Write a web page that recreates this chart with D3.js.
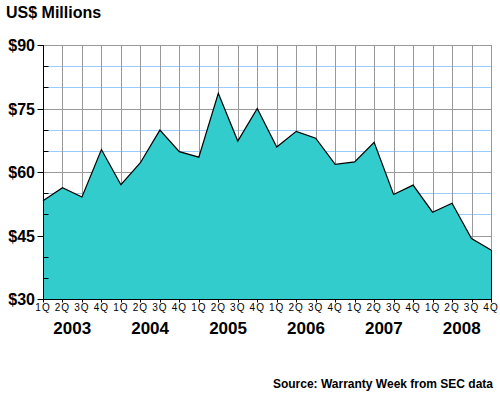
<!DOCTYPE html>
<html>
<head>
<meta charset="utf-8">
<script src="https://cdn.jsdelivr.net/npm/d3@7"></script>
<style>
  body { margin: 0; background: #fff; }
  svg text { font-family: Arial, "Liberation Sans", sans-serif; }
</style>
</head>
<body>
<svg id="chart" width="500" height="394"></svg>
<script>
// quarterly warranty claims, US$ millions, 1Q 2003 .. 4Q 2008
var years = ['2003', '2004', '2005', '2006', '2007', '2008'];
var quarters = ['1Q', '2Q', '3Q', '4Q'];
var claims = [53.2, 56.3, 54.1, 65.3,
              57.0, 62.2, 69.9, 64.8,
              63.5, 78.6, 67.3, 75.0,
              65.9, 69.6, 68.0, 61.8,
              62.4, 67.0, 54.7, 56.9,
              50.5, 52.6, 44.3, 41.6];
var yTicks = [30, 45, 60, 75, 90];
var yMinor = [35, 40, 50, 55, 65, 70, 80, 85];

var pl = 43, pr = 491, pt = 45, pb = 299;
var svg = d3.select('#chart');

var x = d3.scaleLinear().domain([0, claims.length - 1]).range([pl, pr]);
var y = d3.scaleLinear().domain([30, 90]).range([pb, pt]);

function px(v) { return Math.round(v) + 0.5; }

// minor horizontal gridlines (light blue)
svg.append('g').selectAll('line').data(yMinor).enter().append('line')
  .attr('x1', pl).attr('x2', pr)
  .attr('y1', function(d) { return px(y(d)); })
  .attr('y2', function(d) { return px(y(d)); })
  .attr('stroke', '#99ccff').attr('stroke-width', 1);

// major horizontal gridlines
svg.append('g').selectAll('line').data(yTicks).enter().append('line')
  .attr('x1', pl).attr('x2', pr)
  .attr('y1', function(d) { return px(y(d)); })
  .attr('y2', function(d) { return px(y(d)); })
  .attr('stroke', '#999').attr('stroke-width', 1);

// vertical gridlines, one per quarter
svg.append('g').selectAll('line').data(d3.range(claims.length)).enter().append('line')
  .attr('x1', function(d) { return px(x(d)); })
  .attr('x2', function(d) { return px(x(d)); })
  .attr('y1', pt).attr('y2', pb)
  .attr('stroke', '#999').attr('stroke-width', 1);

var area = d3.area()
  .x(function(d, i) { return x(i); })
  .y0(pb)
  .y1(function(d) { return y(d); });

var line = d3.line()
  .x(function(d, i) { return x(i); })
  .y(function(d) { return y(d); });

svg.append('path').datum(claims)
  .attr('d', area)
  .attr('fill', '#33cccc');

svg.append('path').datum(claims)
  .attr('d', line)
  .attr('fill', 'none')
  .attr('stroke', '#000')
  .attr('stroke-width', 1.2);

// right edge of the area
svg.append('line')
  .attr('x1', px(x(claims.length - 1))).attr('x2', px(x(claims.length - 1)))
  .attr('y1', y(claims[claims.length - 1])).attr('y2', pb)
  .attr('stroke', '#000');

// plot frame (top/right)
svg.append('path')
  .attr('d', 'M' + pl + ',' + (pt + 0.5) + 'H' + (pr + 0.5) + 'V' + y(claims[claims.length - 1]))
  .attr('fill', 'none').attr('stroke', '#999');

// y axis
var yAxis = svg.append('g').attr('transform', 'translate(' + (pl + 0.5) + ',0)');
yAxis.append('line').attr('x1', 0).attr('x2', 0).attr('y1', pt).attr('y2', pb + 1)
  .attr('stroke', '#000');
yAxis.selectAll('.maj').data(yTicks).enter().append('line')
  .attr('x1', -6).attr('x2', 0)
  .attr('y1', function(d) { return px(y(d)); })
  .attr('y2', function(d) { return px(y(d)); })
  .attr('stroke', '#000');
yAxis.selectAll('.min').data(yMinor).enter().append('line')
  .attr('x1', 0).attr('x2', 5)
  .attr('y1', function(d) { return px(y(d)); })
  .attr('y2', function(d) { return px(y(d)); })
  .attr('stroke', '#000');
svg.append('g').selectAll('text').data(yTicks).enter().append('text')
  .attr('x', 35)
  .attr('y', function(d) { return y(d) + 6; })
  .attr('text-anchor', 'end')
  .attr('font-size', 16)
  .attr('font-weight', 'bold')
  .text(function(d) { return '$' + d; });

// x axis
var xAxis = svg.append('g').attr('transform', 'translate(0,' + (pb + 0.5) + ')');
xAxis.append('line').attr('x1', pl).attr('x2', pr + 1).attr('y1', 0).attr('y2', 0)
  .attr('stroke', '#000');
xAxis.selectAll('.tk').data(d3.range(claims.length)).enter().append('line')
  .attr('x1', function(d) { return px(x(d)); })
  .attr('x2', function(d) { return px(x(d)); })
  .attr('y1', 0).attr('y2', 3)
  .attr('stroke', '#000');
xAxis.selectAll('text').data(d3.range(claims.length)).enter().append('text')
  .attr('x', function(d) { return x(d); })
  .attr('y', 11)
  .attr('text-anchor', 'middle')
  .attr('font-size', 10)
  .attr('letter-spacing', 1)
  .text(function(d) { return quarters[d % 4]; });

svg.append('g').selectAll('text').data(years).enter().append('text')
  .attr('x', function(d, i) { return (x(i * 4) + x(i * 4 + 3)) / 2; })
  .attr('y', 334)
  .attr('text-anchor', 'middle')
  .attr('font-size', 17)
  .attr('font-weight', 'bold')
  .text(function(d) { return d; });

svg.append('text')
  .attr('x', 6).attr('y', 18)
  .attr('font-size', 16).attr('font-weight', 'bold')
  .text('US$ Millions');

svg.append('text')
  .attr('x', 493).attr('y', 388)
  .attr('text-anchor', 'end')
  .attr('font-size', 12).attr('font-weight', 'bold')
  .text('Source: Warranty Week from SEC data');
</script>
</body>
</html>
